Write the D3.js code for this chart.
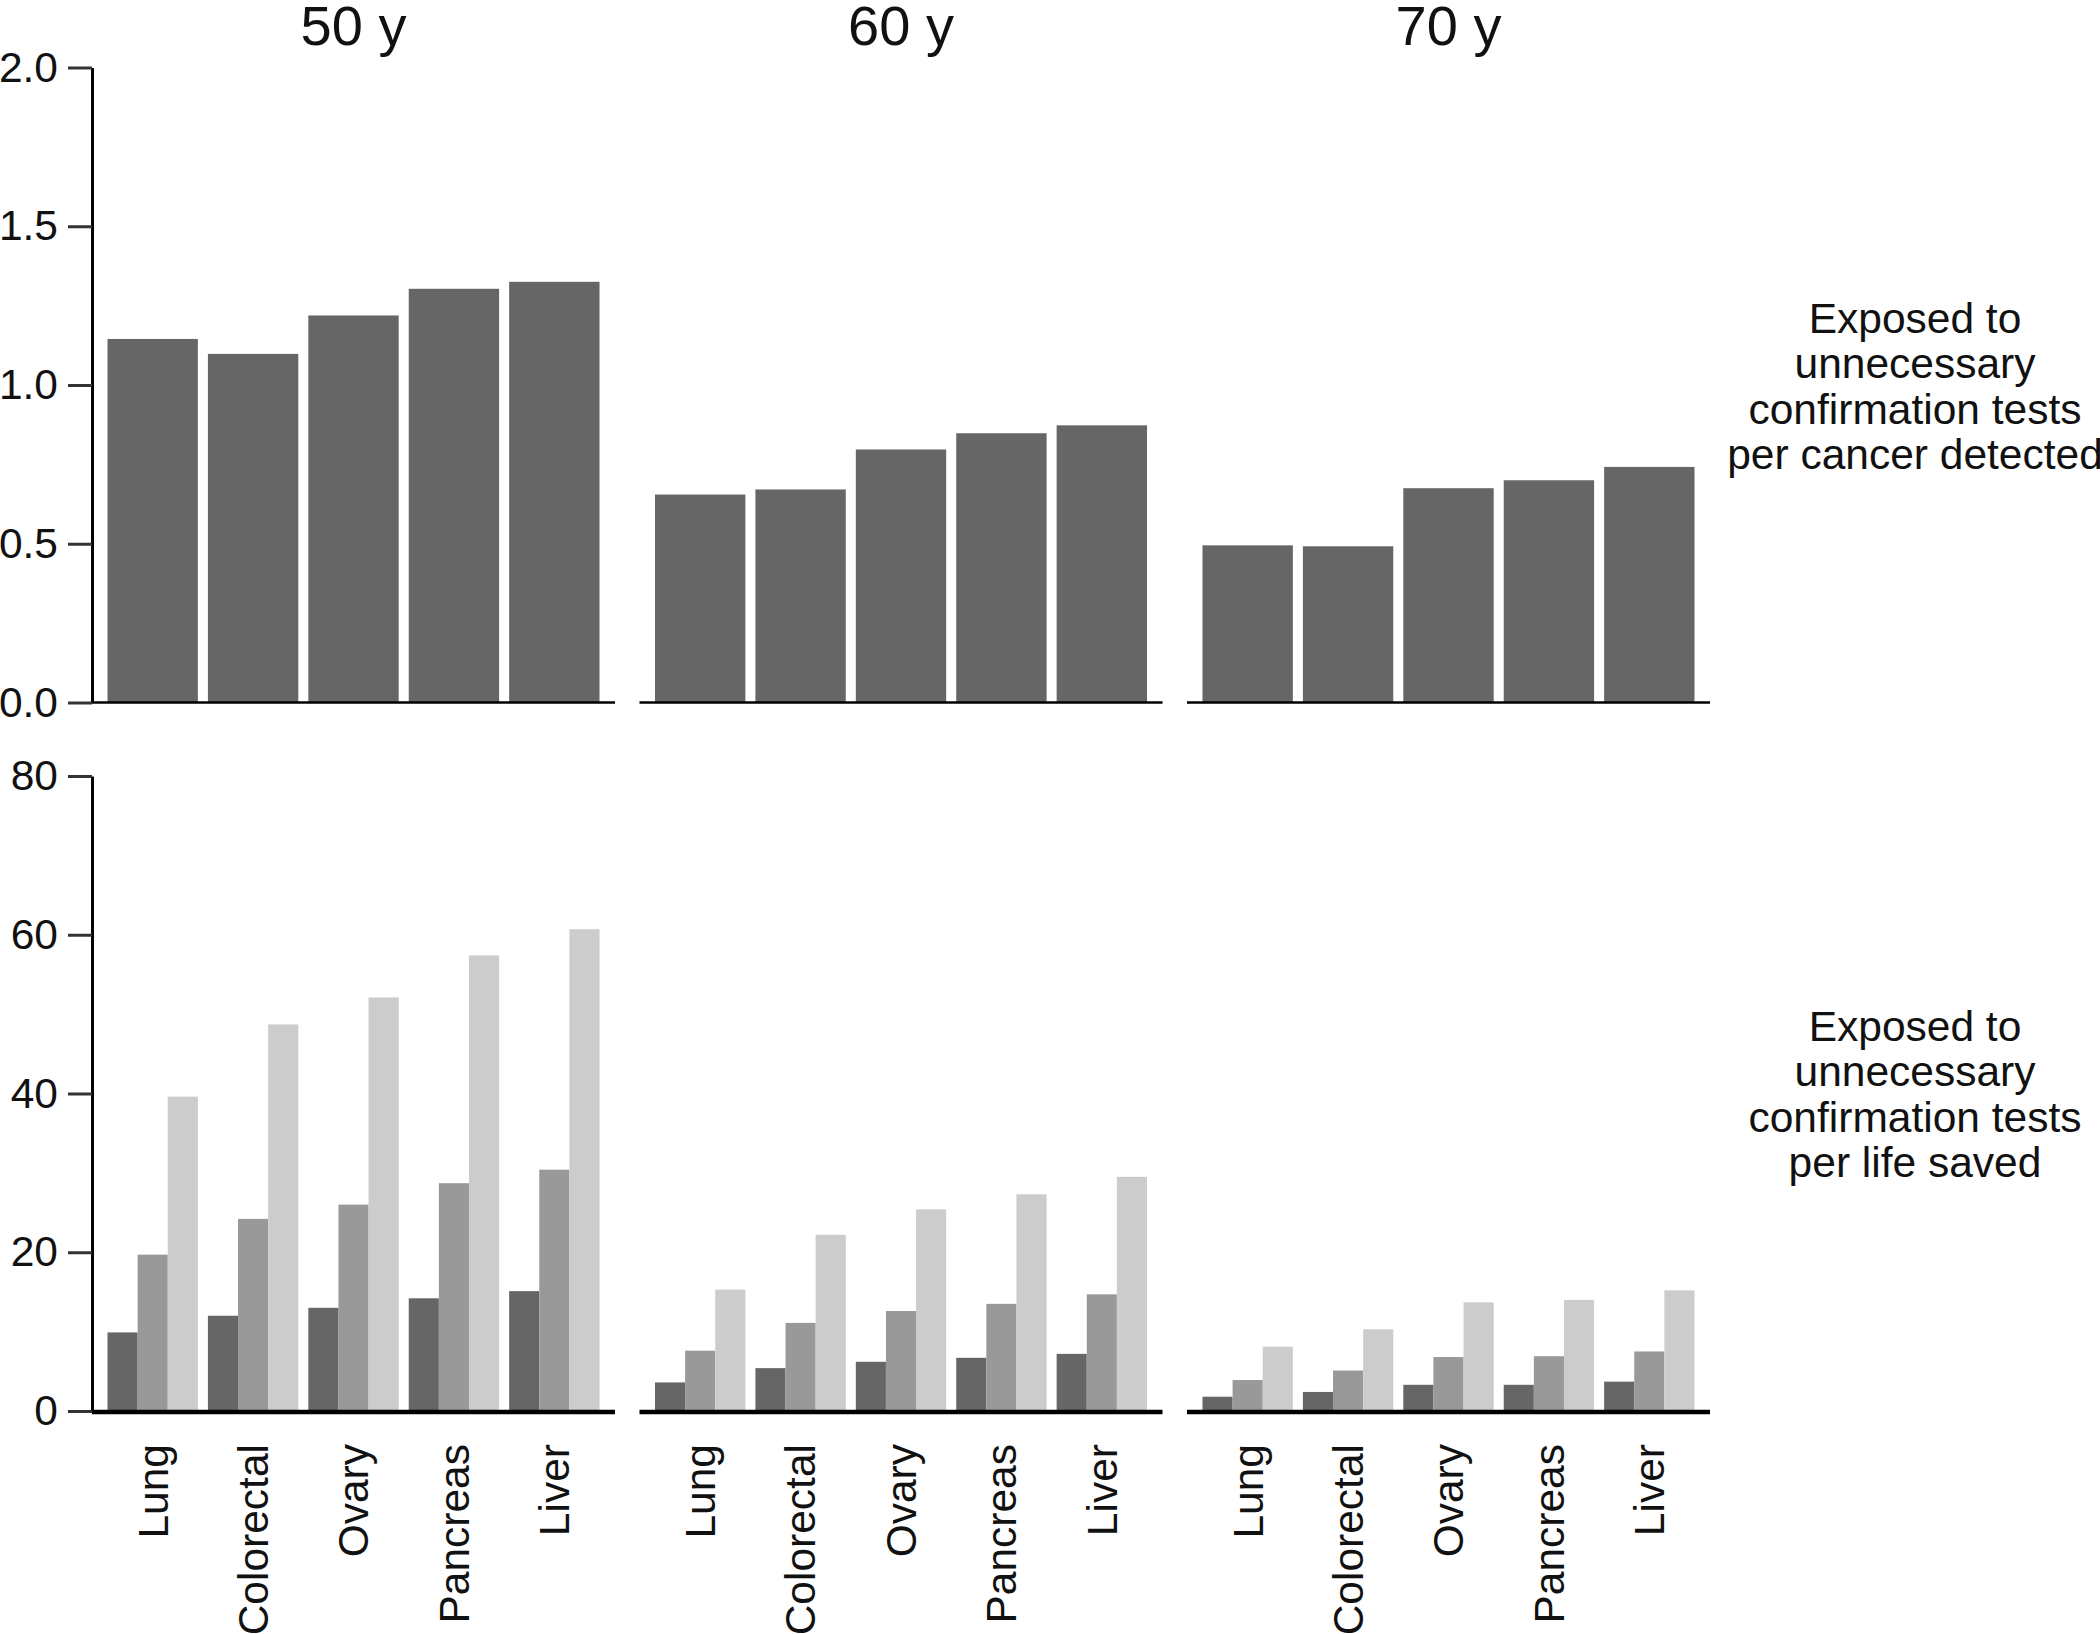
<!DOCTYPE html>
<html>
<head>
<meta charset="utf-8">
<script src="https://cdn.jsdelivr.net/npm/d3@7"></script>
<style>
  html, body { margin: 0; padding: 0; background: #fff; }
  svg { display: block; font-family: "Liberation Sans", Arial, Helvetica, sans-serif; }
</style>
</head>
<body>
<svg id="chart" width="2100" height="1634"></svg>
<script>
// ---------- data ----------
const ages = ["50 y", "60 y", "70 y"];
const cancers = ["Lung", "Colorectal", "Ovary", "Pancreas", "Liver"];

// top panel: exposed to unnecessary confirmation tests per cancer detected
const perCancer50 = [1.145, 1.098, 1.219, 1.303, 1.325];
const perCancer60 = [0.655, 0.671, 0.797, 0.848, 0.873];
const perCancer70 = [0.495, 0.492, 0.675, 0.700, 0.742];

// bottom panel: exposed per life saved (three series: dark, mid, light)
const series = ["dark", "mid", "light"];
const perLife50Dark  = [9.9, 12.0, 13.0, 14.2, 15.1];
const perLife50Mid   = [19.7, 24.2, 26.0, 28.7, 30.4];
const perLife50Light = [39.6, 48.7, 52.1, 57.4, 60.7];
const perLife60Dark  = [3.6, 5.4, 6.2, 6.7, 7.2];
const perLife60Mid   = [7.6, 11.1, 12.6, 13.5, 14.7];
const perLife60Light = [15.3, 22.2, 25.4, 27.3, 29.5];
const perLife70Dark  = [1.8, 2.4, 3.3, 3.3, 3.7];
const perLife70Mid   = [3.9, 5.1, 6.8, 6.9, 7.5];
const perLife70Light = [8.1, 10.3, 13.7, 14.0, 15.2];

const topTicks = [0, 0.5, 1.0, 1.5, 2.0];
const bottomTicks = [0, 20, 40, 60, 80];

const topLabel = ["Exposed to", "unnecessary", "confirmation tests", "per cancer detected"];
const bottomLabel = ["Exposed to", "unnecessary", "confirmation tests", "per life saved"];

const seriesColors = ["#666666", "#999999", "#cccccc"];

// build tables
const topData = [perCancer50, perCancer60, perCancer70];
const bottomData = [
  [perLife50Dark, perLife50Mid, perLife50Light],
  [perLife60Dark, perLife60Mid, perLife60Light],
  [perLife70Dark, perLife70Mid, perLife70Light]
];

// ---------- layout ----------
const svg = d3.select("#chart");
const fontSize = 42.5;

const panelX = d3.scaleBand().domain(ages).range([92, 1710]).paddingInner(0.0447).paddingOuter(0);
const pw = panelX.bandwidth();
const catX = d3.scaleBand().domain(cancers).range([15.5, pw - 15.5]).paddingInner(0.1).paddingOuter(0);
const subX = d3.scaleBand().domain(series).range([0, catX.bandwidth()]).padding(0);
const color = d3.scaleOrdinal().domain(series).range(seriesColors);

const yTop = d3.scaleLinear().domain([0, 2]).range([702.5, 67.5]);
const yBot = d3.scaleLinear().domain([0, 80]).range([1411, 776]);

// titles
svg.selectAll("text.title").data(ages).join("text")
  .attr("class", "title")
  .attr("x", d => panelX(d) + pw / 2)
  .attr("y", 45)
  .attr("text-anchor", "middle")
  .attr("font-size", 56)
  .attr("fill", "#111")
  .text(d => d);

// top bars
ages.forEach((age, i) => {
  const g = svg.append("g").attr("transform", `translate(${panelX(age)},0)`);
  g.selectAll("rect").data(cancers).join("rect")
    .attr("x", c => catX(c))
    .attr("width", catX.bandwidth())
    .attr("y", (c, j) => yTop(topData[i][j]))
    .attr("height", (c, j) => yTop(0) - yTop(topData[i][j]))
    .attr("fill", "#666666");
  g.append("line")
    .attr("x1", 0).attr("x2", pw)
    .attr("y1", yTop(0)).attr("y2", yTop(0))
    .attr("stroke", "#000").attr("stroke-width", 2.6);
});

// bottom bars
ages.forEach((age, i) => {
  const g = svg.append("g").attr("transform", `translate(${panelX(age)},0)`);
  cancers.forEach((c, j) => {
    const cg = g.append("g").attr("transform", `translate(${catX(c)},0)`);
    cg.selectAll("rect").data(series).join("rect")
      .attr("x", s => subX(s))
      .attr("width", subX.bandwidth())
      .attr("y", (s, k) => yBot(bottomData[i][k][j]))
      .attr("height", (s, k) => yBot(0) - yBot(bottomData[i][k][j]))
      .attr("fill", s => color(s));
  });
  g.append("line")
    .attr("x1", 0).attr("x2", pw)
    .attr("y1", yBot(0) + 1).attr("y2", yBot(0) + 1)
    .attr("stroke", "#000").attr("stroke-width", 4.5);
  // category labels
  g.selectAll("text.cat").data(cancers).join("text")
    .attr("class", "cat")
    .attr("transform", c => `translate(${catX(c) + catX.bandwidth() / 2},1444) rotate(-90)`)
    .attr("text-anchor", "end")
    .attr("dy", "0.35em")
    .attr("font-size", fontSize)
    .attr("fill", "#111")
    .text(c => c);
});

// y axes
function styleAxis(g) {
  g.select(".domain").attr("stroke", "#000").attr("stroke-width", 3);
  g.selectAll(".tick line").attr("stroke", "#333").attr("stroke-width", 3);
  g.selectAll(".tick text").attr("font-size", fontSize).attr("fill", "#111")
    .attr("font-family", "'Liberation Sans', Arial, sans-serif");
}
svg.append("g").attr("transform", "translate(92,0)")
  .call(d3.axisLeft(yTop).tickValues(topTicks).tickFormat(d3.format(".1f")).tickSize(24).tickSizeOuter(0).tickPadding(10))
  .call(styleAxis);
svg.append("g").attr("transform", "translate(92,0)")
  .call(d3.axisLeft(yBot).tickValues(bottomTicks).tickFormat(d3.format("d")).tickSize(24).tickSizeOuter(0).tickPadding(10))
  .call(styleAxis);

// right side labels
function sideLabel(lines, cy) {
  const lh = 45.5;
  const t = svg.append("text")
    .attr("text-anchor", "middle")
    .attr("font-size", fontSize)
    .attr("fill", "#111");
  lines.forEach((ln, i) => {
    t.append("tspan")
      .attr("x", 1915)
      .attr("y", cy + (i - (lines.length - 1) / 2) * lh + 14)
      .text(ln);
  });
}
sideLabel(topLabel, 387);
sideLabel(bottomLabel, 1095);
</script>
</body>
</html>
